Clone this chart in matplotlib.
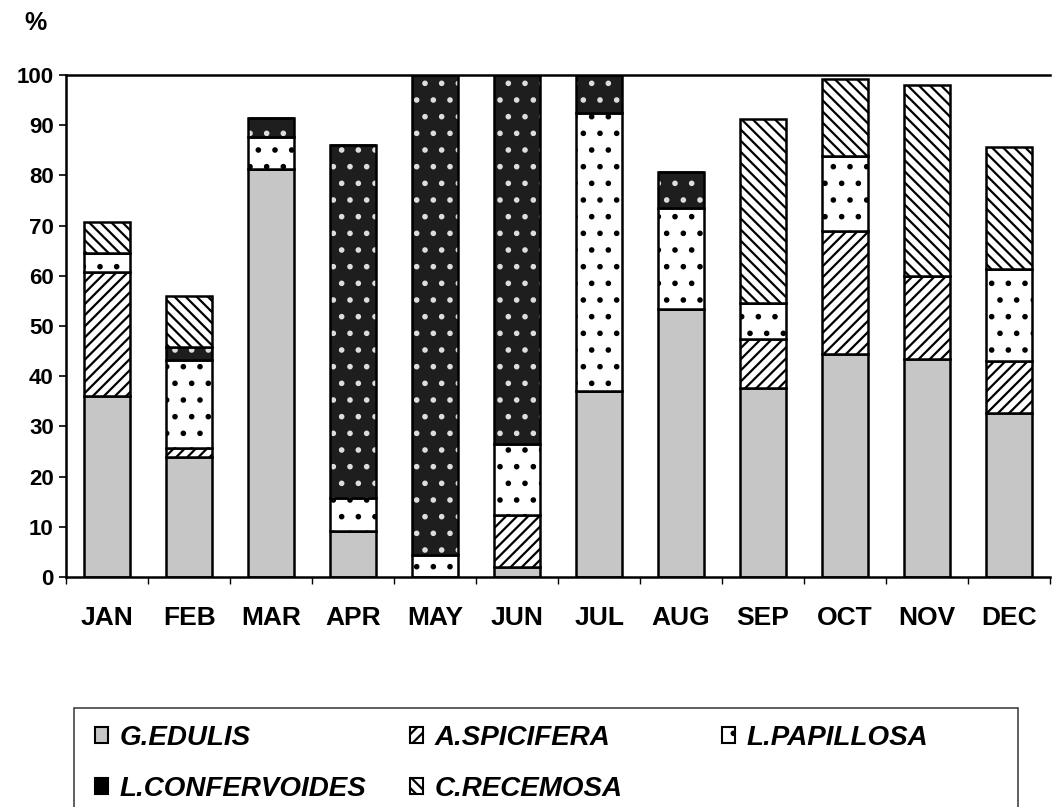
import matplotlib.pyplot as plt
from matplotlib.patches import Patch, Rectangle
import numpy as np

plt.rcParams['font.family'] = ['Liberation Sans', 'DejaVu Sans']
plt.rcParams['hatch.linewidth'] = 1.6

months = ['JAN', 'FEB', 'MAR', 'APR', 'MAY', 'JUN', 'JUL', 'AUG', 'SEP', 'OCT', 'NOV', 'DEC']
species = ['G.EDULIS', 'A.SPICIFERA', 'L.PAPILLOSA', 'L.CONFERVOIDES', 'C.RECEMOSA']

# % share per month, stacked bottom to top in species order
g_edulis = [36.0, 23.9, 81.2, 9.1, 0.0, 2.0, 37.0, 53.4, 37.6, 44.5, 43.5, 32.6]
a_spicifera = [24.8, 1.8, 0.0, 0.0, 0.0, 10.4, 0.0, 0.0, 9.8, 24.4, 16.4, 10.4]
l_papillosa = [3.7, 17.6, 6.5, 6.7, 4.4, 14.1, 55.4, 20.2, 7.2, 15.0, 0.0, 18.3]
l_confervoides = [0.0, 2.5, 3.7, 70.2, 95.6, 73.5, 7.6, 7.0, 0.0, 0.0, 0.0, 0.0]
c_recemosa = [6.2, 10.2, 0.0, 0.0, 0.0, 0.0, 0.0, 0.0, 36.7, 15.4, 38.2, 24.4]

series = [g_edulis, a_spicifera, l_papillosa, l_confervoides, c_recemosa]
faces = ['#c6c6c6', 'white', 'white', '#1e1e1e', 'white']
hatches = [None, '///', '.', '.', '\\\\\\']


def main():
    fig = plt.figure(figsize=(10.52, 8.07), dpi=100)
    ax = fig.add_axes([0.063, 0.285, 0.935, 0.622])

    x = np.arange(len(months))
    w = 0.56
    bottom = np.zeros(len(months))
    for vals, fc, h in zip(series, faces, hatches):
        vals = np.array(vals)
        if fc == '#1e1e1e':
            # white dots on dark fill, then black outline
            ax.bar(x, vals, w, bottom=bottom, color=fc, edgecolor='#dddddd',
                   hatch=h, linewidth=0)
            ax.bar(x, vals, w, bottom=bottom, fill=False, edgecolor='black',
                   linewidth=1.8)
        else:
            ax.bar(x, vals, w, bottom=bottom, color=fc, edgecolor='black',
                   hatch=h, linewidth=1.8)
        bottom += vals

    ax.set_xlim(-0.5, 11.5)
    ax.set_ylim(0, 100)
    ax.set_yticks(range(0, 101, 10))
    ax.set_xticks(x)
    ax.set_xticklabels(months, fontsize=19, fontweight='bold')
    ax.set_xticks(np.arange(-0.5, 12, 1), minor=True)
    ax.tick_params(axis='x', which='major', length=0, pad=21)
    ax.tick_params(axis='x', which='minor', length=5, width=1)
    ax.tick_params(axis='y', length=5, width=1.2, pad=4)
    for lab in ax.get_yticklabels():
        lab.set_fontsize(16)
        lab.set_fontweight('bold')

    ax.spines['right'].set_visible(False)
    for s in ['top', 'left', 'bottom']:
        ax.spines[s].set_linewidth(1.8)

    fig.text(0.034, 0.972, '%', fontsize=18, fontweight='bold', ha='center', va='center')

    # legend: one frame, three columns filled row by row
    handles = [Patch(facecolor=faces[0], edgecolor='black', linewidth=1.5),
               Patch(facecolor='white', edgecolor='black', hatch='///', linewidth=1.5),
               Patch(facecolor='white', edgecolor='black', hatch='.', linewidth=1.5),
               Patch(facecolor='black', edgecolor='black', linewidth=1.5),
               Patch(facecolor='white', edgecolor='black', hatch='\\\\\\', linewidth=1.5)]
    columns = [[0, 3], [1, 4], [2]]
    col_x = [95, 410, 722]
    for idx, cx in zip(columns, col_x):
        fig.legend([handles[i] for i in idx], [species[i] for i in idx],
                   loc='upper left', bbox_to_anchor=(cx / 1052, 1 - 725 / 807),
                   frameon=False,
                   prop={'size': 20, 'weight': 'bold', 'style': 'italic'},
                   handlelength=0.47, handleheight=0.47, handletextpad=0.43,
                   labelspacing=0.9, borderpad=0, borderaxespad=0)
    fig.add_artist(Rectangle((74 / 1052, -0.05), (1018 - 74) / 1052, 0.05 + 1 - 708 / 807,
                             transform=fig.transFigure, fill=False,
                             edgecolor='#444444', linewidth=1.2))

    fig.savefig('out.png', dpi=100)


if __name__ == "__main__":
    main()
